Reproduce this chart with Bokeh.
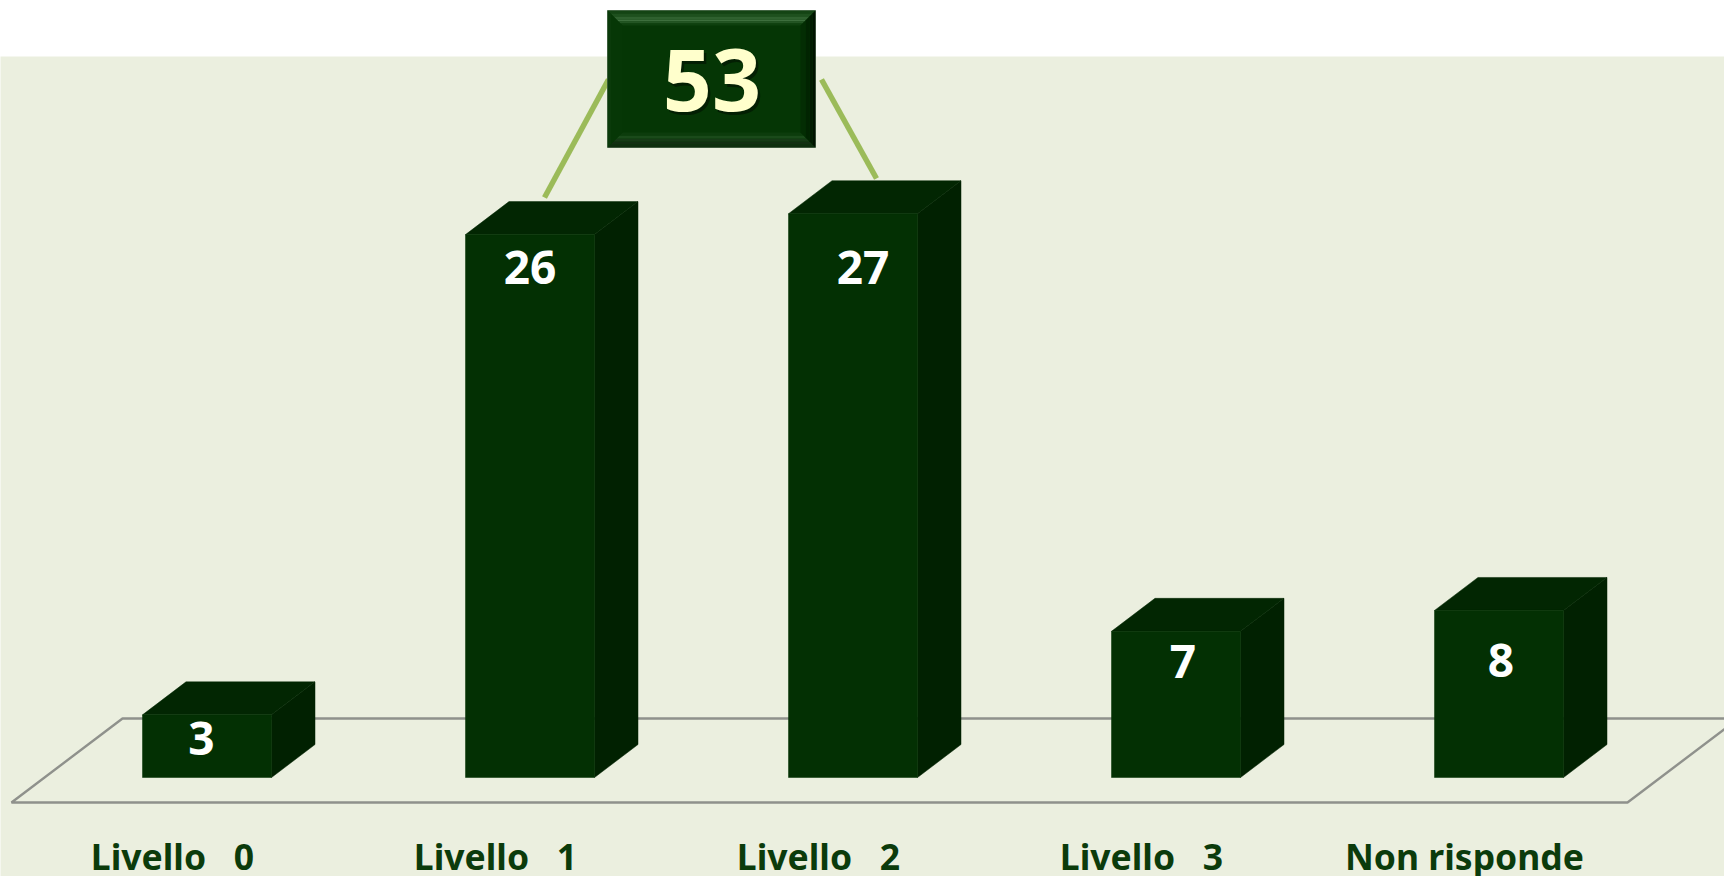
from bokeh.plotting import figure
from bokeh.models import Range1d, LinearAxis, FixedTicker
from bokeh.core.properties import value
from bokeh.embed import file_html
from bokeh.resources import INLINE

categories = ["Livello\u00a0\u00a0\u00a00", "Livello\u00a0\u00a0\u00a01", "Livello\u00a0\u00a0\u00a02", "Livello\u00a0\u00a0\u00a03", "Non risponde"]
values = [3, 26, 27, 7, 8]
grouped = [1, 2]
total_label = str(sum(values[i] for i in grouped))

# layout constants (pixels of the page)
W, H = 1724, 876
STEP, BASE_X, BASE_Y, UNIT = 323.0, 206.5, 777.0, 20.88
BAR_W, DEPTH_X, DEPTH_Y = 129.0, 43.5, 33.0

def fx(px): return (px - BASE_X) / STEP
def fy(py): return (BASE_Y - py) / UNIT

FRONT, TOP, SIDE = "#033003", "#022602", "#012101"
BG, FLOOR, GREEN = "#EBEFDF", "#8f918c", "#9BBB59"
LABEL = "#0B3B0B"
NUM_FONT = "Noto Sans"

p = figure(width=W, height=H, output_backend="svg", toolbar_location=None,
           x_range=Range1d(fx(0), fx(W)), y_range=Range1d(fy(H), fy(0)),
           min_border=0, min_border_left=0, min_border_right=0, min_border_top=0, min_border_bottom=0,
           x_axis_type=None, y_axis_type=None, outline_line_color=None,
           background_fill_color="white", border_fill_color="white",
           styles={"margin-left": "0px", "margin-top": "0px"})
p.grid.visible = False
p.quad(left=[fx(-10)], right=[fx(W + 10)], top=[fy(56)], bottom=[fy(H + 10)], fill_color=BG, line_color=None)

# floor
fl_x = [fx(1724 + 20), fx(122), fx(11), fx(1627), fx(1724 + 20)]
fl_y = [fy(718), fy(718), fy(802), fy(802), fy(802 - 117 * 84 / 111)]
p.line(fl_x, fl_y, line_color=FLOOR, line_width=2.4)

# bars
n = range(len(values))
hw = BAR_W / 2 / STEP
ddx, ddy = DEPTH_X / STEP, DEPTH_Y / UNIT
p.patches([[i + hw, i + hw + ddx, i + hw + ddx, i + hw] for i in n],
          [[0, ddy, v + ddy, v] for v in values], fill_color=SIDE, line_color=SIDE, line_width=0.5)
p.patches([[i - hw, i - hw + ddx, i + hw + ddx, i + hw] for i in n],
          [[v, v + ddy, v + ddy, v] for v in values], fill_color=TOP, line_color=TOP, line_width=0.5)
p.quad(left=[i - hw for i in n], right=[i + hw for i in n], bottom=[0] * 5, top=values,
       fill_color=FRONT, line_color=FRONT, line_width=0.5)

# value labels
label_dx = [-5.5, 0, 10, 7, 2]
label_dy = [24, 33, 54, 30, 50]
p.text([i + d / STEP for i, d in zip(n, label_dx)], [v - d / UNIT for v, d in zip(values, label_dy)],
       text=[str(v) for v in values], text_color="white", text_font=value(NUM_FONT),
       text_font_style="bold", text_font_size="46px", text_align="center", text_baseline="middle")

# connectors
for (x0, y0, x1, y1) in [(544, 197, 608, 79), (821, 79, 876, 178)]:
    p.line([fx(x0), fx(x1)], [fy(y0), fy(y1)], line_color=GREEN, line_width=5.5)

# total box with bevel
L, R, T, B = 607, 815, 10, 147
p.quad(left=[fx(L)], right=[fx(R)], top=[fy(T)], bottom=[fy(B)], fill_color="#053605", line_color="#6a806a", line_width=0.8)
top_b = [(0, 3, "#144414"), (3, 6, "#1e501e"), (6, 9, "#2f612f"), (9, 11, "#3d6f3d"), (11, 13, "#235523"), (13, 15, "#0e400e")]
bot_b = [(0, 3, "#0e2e0e"), (3, 6, "#122f12"), (6, 9, "#163a16"), (9, 12, "#1a4a1a"), (12, 15, "#0c3c0c")]
rgt_b = [(0, 3, "#001200"), (3, 6, "#011a01"), (6, 10, "#012401"), (10, 15, "#032d03")]
lft_b = [(0, 4, "#0a3a0a"), (4, 15, "#063706")]
for a, b, c in top_b:
    p.patch([fx(L + a), fx(R - a), fx(R - b), fx(L + b)], [fy(T + a), fy(T + a), fy(T + b), fy(T + b)], fill_color=c, line_color=None)
for a, b, c in bot_b:
    p.patch([fx(L + a), fx(R - a), fx(R - b), fx(L + b)], [fy(B - a), fy(B - a), fy(B - b), fy(B - b)], fill_color=c, line_color=None)
for a, b, c in rgt_b:
    p.patch([fx(R - a), fx(R - a), fx(R - b), fx(R - b)], [fy(T + a), fy(B - a), fy(B - b), fy(T + b)], fill_color=c, line_color=None)
for a, b, c in lft_b:
    p.patch([fx(L + a), fx(L + a), fx(L + b), fx(L + b)], [fy(T + a), fy(B - a), fy(B - b), fy(T + b)], fill_color=c, line_color=None)

p.text([fx(714)], [fy(82)], text=[total_label], text_color="#021a02", text_font=value(NUM_FONT), text_font_style="bold",
       text_font_size="86px", text_align="center", text_baseline="middle", text_alpha=0.8)
p.text([fx(711.5)], [fy(79.5)], text=[total_label], text_color="#FFFFCC", text_font=value(NUM_FONT), text_font_style="bold",
       text_font_size="86px", text_align="center", text_baseline="middle")

# category axis, drawn at a fixed place inside the frame
axis = LinearAxis(ticker=FixedTicker(ticks=[i - 34.5 / STEP for i in n]), fixed_location=fy(825),
                  major_label_overrides={i - 34.5 / STEP: c for i, c in zip(n, categories)},
                  axis_line_color=None, major_tick_line_color=None, minor_tick_line_color=None,
                  major_label_text_font="Noto Sans", major_label_text_font_style="bold",
                  major_label_text_font_size="35.5px", major_label_text_color=LABEL, major_label_standoff=0)
p.add_layout(axis, "below")

open("out.html", "w").write(file_html(p, INLINE))
